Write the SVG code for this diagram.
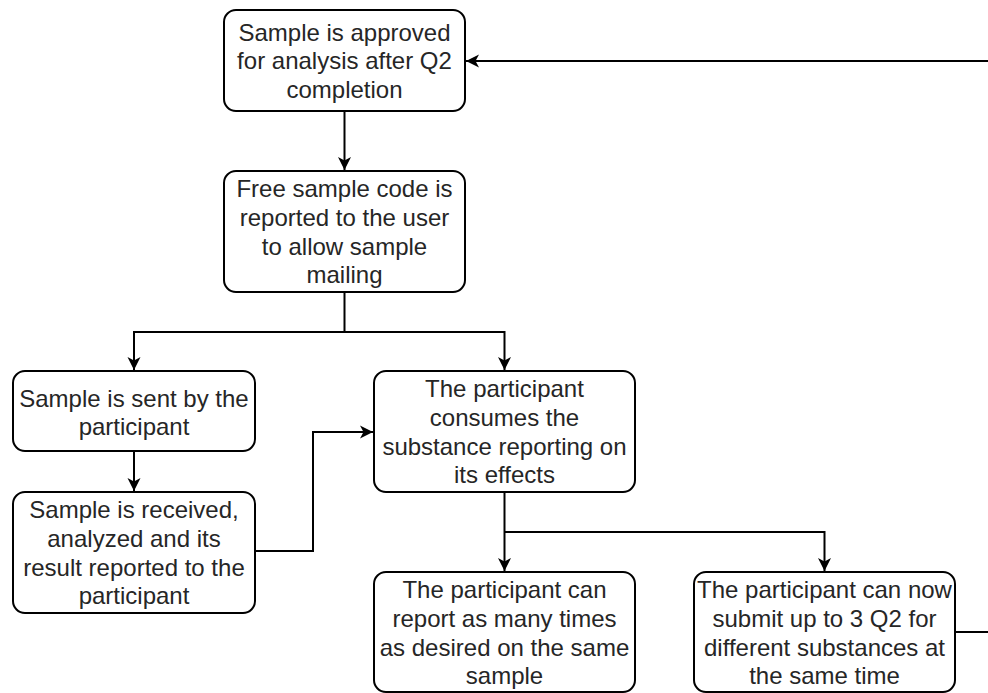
<svg xmlns="http://www.w3.org/2000/svg" width="988" height="693" viewBox="0 0 988 693">
<defs>
<marker id="arr" markerUnits="userSpaceOnUse" markerWidth="14" markerHeight="14" refX="13" refY="7" orient="auto">
<path d="M0,0.5 L13,7 L0,13.5 L3.5,7 Z" fill="#000"/>
</marker>
<style>
.box{fill:#fff;stroke:#000;stroke-width:2}
.t{font-family:"Liberation Sans",Arial,sans-serif;font-size:24px;fill:#262626;text-anchor:middle}
.c{fill:none;stroke:#000;stroke-width:2}
</style>
</defs>
<rect width="988" height="693" fill="#fff"/>
<g id="connectors">
<path class="c" d="M344.5,111 V170" marker-end="url(#arr)"/>
<path class="c" d="M344.5,292 V332 H134 V370" marker-end="url(#arr)"/>
<path class="c" d="M344.5,332 H504.5 V370" marker-end="url(#arr)"/>
<path class="c" d="M134,451 V491" marker-end="url(#arr)"/>
<path class="c" d="M255,551 H313 V432 H373" marker-end="url(#arr)"/>
<path class="c" d="M504.5,492 V571" marker-end="url(#arr)"/>
<path class="c" d="M504.5,532 H824.5 V571" marker-end="url(#arr)"/>
<path class="c" d="M955,632 H1005 V61 H466" marker-end="url(#arr)"/>
</g>
<g id="node1">
<rect class="box" x="224" y="10" width="241" height="101" rx="12"/>
<text class="t"><tspan x="344.5" y="40.5">Sample is approved</tspan><tspan x="344.5" y="69.3">for analysis after Q2</tspan><tspan x="344.5" y="98.1">completion</tspan></text>
</g>
<g id="node2">
<rect class="box" x="224" y="171" width="241" height="121" rx="12"/>
<text class="t"><tspan x="344.5" y="197">Free sample code is</tspan><tspan x="344.5" y="225.8">reported to the user</tspan><tspan x="344.5" y="254.6">to allow sample</tspan><tspan x="344.5" y="283.4">mailing</tspan></text>
</g>
<g id="node3">
<rect class="box" x="13" y="371" width="242" height="80" rx="12"/>
<text class="t"><tspan x="134" y="406.5">Sample is sent by the</tspan><tspan x="134" y="435.3">participant</tspan></text>
</g>
<g id="node4">
<rect class="box" x="13" y="492" width="242" height="121" rx="12"/>
<text class="t"><tspan x="134" y="518">Sample is received,</tspan><tspan x="134" y="546.8">analyzed and its</tspan><tspan x="134" y="575.6">result reported to the</tspan><tspan x="134" y="604.4">participant</tspan></text>
</g>
<g id="node5">
<rect class="box" x="374" y="371" width="261" height="121" rx="12"/>
<text class="t"><tspan x="504.5" y="397">The participant</tspan><tspan x="504.5" y="425.8">consumes the</tspan><tspan x="504.5" y="454.6">substance reporting on</tspan><tspan x="504.5" y="483.4">its effects</tspan></text>
</g>
<g id="node6">
<rect class="box" x="374" y="572" width="261" height="120" rx="12"/>
<text class="t"><tspan x="504.5" y="598">The participant can</tspan><tspan x="504.5" y="626.8">report as many times</tspan><tspan x="504.5" y="655.6">as desired on the same</tspan><tspan x="504.5" y="684.4">sample</tspan></text>
</g>
<g id="node7">
<rect class="box" x="694" y="572" width="261" height="120" rx="12"/>
<text class="t"><tspan x="824.5" y="598">The participant can now</tspan><tspan x="824.5" y="626.8">submit up to 3 Q2 for</tspan><tspan x="824.5" y="655.6">different substances at</tspan><tspan x="824.5" y="684.4">the same time</tspan></text>
</g>
</svg>
